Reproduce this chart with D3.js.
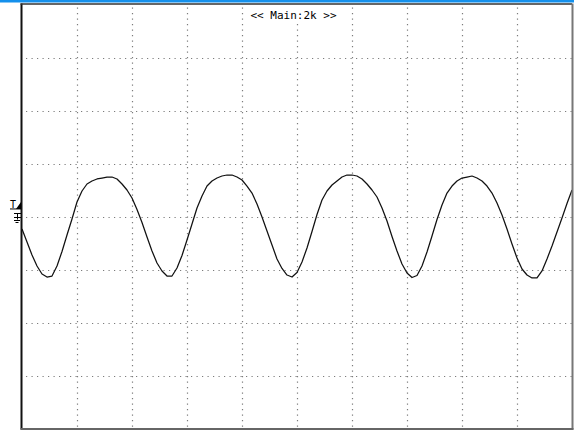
<!DOCTYPE html>
<html>
<head>
<meta charset="utf-8">
<script src="https://cdn.jsdelivr.net/npm/d3@7"></script>
<style>
  html, body { margin: 0; padding: 0; background: #fff; }
  svg { display: block; }
</style>
</head>
<body>
<svg id="scope" width="574" height="430"></svg>
<script>
// Screen: 10 horizontal x 8 vertical divisions
const timeDivs = d3.range(0, 11);
const voltDivs = d3.range(-4, 5);
const samplesPerDiv = 11;
const headerLabel = "<< Main:2k >>";
const triggerLevel = 0.18;   // div
const groundLevel = 0;       // div

// Captured trace, volts in divisions, one value per sample
const trace = [
  -0.236,-0.481,-0.726,-0.934,-1.085,-1.142,-1.123,-0.934,-0.660,-0.349,
  -0.047, 0.274, 0.481, 0.613, 0.670, 0.708, 0.726, 0.745, 0.745, 0.708,
   0.613, 0.500, 0.349, 0.132,-0.113,-0.387,-0.651,-0.877,-1.028,-1.123,
  -1.123,-0.972,-0.736,-0.443,-0.142, 0.160, 0.387, 0.575, 0.670, 0.726,
   0.764, 0.783, 0.783, 0.745, 0.689, 0.575, 0.443, 0.236,-0.009,-0.274,
  -0.538,-0.802,-0.981,-1.104,-1.142,-1.057,-0.858,-0.594,-0.283, 0.038,
   0.311, 0.481, 0.594, 0.670, 0.745, 0.783, 0.783, 0.764, 0.708, 0.613,
   0.500, 0.368, 0.160,-0.085,-0.377,-0.651,-0.896,-1.066,-1.151,-1.113,
  -0.934,-0.670,-0.368,-0.057, 0.217, 0.443, 0.575, 0.670, 0.726, 0.745,
   0.764, 0.726, 0.670, 0.575, 0.443, 0.255, 0.028,-0.236,-0.519,-0.783,
  -0.991,-1.104,-1.160,-1.160,-1.028,-0.802,-0.557,-0.292,-0.028, 0.245,
   0.500
];

const svg = d3.select("#scope");
const W = 574, H = 430;
const plot = { left: 22, right: 572, top: 4.5, bottom: 428.5 };

const x = d3.scaleLinear().domain([0, 10]).range([plot.left, plot.right]);
const y = d3.scaleLinear().domain([-4, 4]).range([plot.bottom, plot.top]);

// Title strip
svg.append("rect").attr("x", 0).attr("y", 0).attr("width", W).attr("height", 2.5)
  .attr("fill", "#1490ec");

// Dotted graticule
const grid = svg.append("g").attr("stroke", "#7c7c7c").attr("stroke-width", 1.2)
  .attr("stroke-dasharray", "1.2,4.3");
grid.selectAll("line.v").data(timeDivs.slice(1, -1)).join("line")
  .attr("class", "v")
  .attr("x1", d => Math.round(x(d)) + 0.5).attr("x2", d => Math.round(x(d)) + 0.5)
  .attr("y1", plot.top + 3).attr("y2", plot.bottom);
grid.selectAll("line.h").data(voltDivs.slice(1, -1)).join("line")
  .attr("class", "h")
  .attr("y1", d => Math.round(y(d)) + 0.5).attr("y2", d => Math.round(y(d)) + 0.5)
  .attr("x1", plot.left + 4).attr("x2", plot.right);

// Header label on a white patch
const header = svg.append("g");
const hx = x(5) - 3.5;
header.append("rect").attr("x", hx - 46).attr("y", plot.top + 1)
  .attr("width", 92).attr("height", 15).attr("fill", "#fff");
header.append("text").attr("x", hx).attr("y", 18.5)
  .attr("text-anchor", "middle")
  .attr("font-family", "'DejaVu Sans Mono', monospace")
  .attr("font-size", 11).attr("fill", "#000")
  .text(headerLabel);

// Waveform
const line = d3.line()
  .x((d, i) => x(i / samplesPerDiv))
  .y(d => y(d))
  .curve(d3.curveLinear);
svg.append("path").datum(trace)
  .attr("d", line)
  .attr("fill", "none").attr("stroke", "#111").attr("stroke-width", 1.25)
  .attr("stroke-linejoin", "round");

// Frame (inset bevel)
svg.append("line").attr("x1", plot.left - 0.5).attr("x2", plot.left - 0.5)
  .attr("y1", plot.top - 1).attr("y2", plot.bottom + 1)
  .attr("stroke", "#111").attr("stroke-width", 2);
svg.append("line").attr("x1", plot.left - 1.5).attr("x2", plot.right)
  .attr("y1", plot.top - 0.5).attr("y2", plot.top - 0.5)
  .attr("stroke", "#333").attr("stroke-width", 1.5);
svg.append("line").attr("x1", plot.right + 0.5).attr("x2", plot.right + 0.5)
  .attr("y1", plot.top - 1).attr("y2", plot.bottom + 1)
  .attr("stroke", "#777").attr("stroke-width", 2);
svg.append("line").attr("x1", plot.left - 1.5).attr("x2", plot.right + 1.5)
  .attr("y1", plot.bottom + 0.5).attr("y2", plot.bottom + 0.5)
  .attr("stroke", "#666").attr("stroke-width", 2);

// Trigger level marker
const ty = y(triggerLevel);
const trig = svg.append("g");
trig.append("text").attr("x", 10).attr("y", ty + 1.5)
  .attr("font-family", "'DejaVu Sans Mono', monospace")
  .attr("font-size", 10).attr("fill", "#000").text("T");
trig.append("line").attr("x1", 10).attr("x2", plot.left - 1)
  .attr("y1", ty + 2).attr("y2", ty + 2).attr("stroke", "#000").attr("stroke-width", 1);
trig.append("path")
  .attr("d", `M${plot.left - 6},${ty + 2}L${plot.left - 1},${ty - 5}L${plot.left - 1},${ty + 2}Z`)
  .attr("fill", "#000");

// Ground reference marker
const gy = Math.round(y(groundLevel)) - 0.5;
const gnd = svg.append("g").attr("stroke", "#000").attr("stroke-width", 1);
gnd.append("line").attr("x1", 14).attr("x2", 21).attr("y1", gy - 3).attr("y2", gy - 3);
gnd.append("line").attr("x1", 17.5).attr("x2", 17.5).attr("y1", gy - 3).attr("y2", gy + 3);
gnd.append("line").attr("x1", 14).attr("x2", 21).attr("y1", gy + 1).attr("y2", gy + 1);
gnd.append("line").attr("x1", 14).attr("x2", 20).attr("y1", gy + 4).attr("y2", gy + 4);
gnd.append("line").attr("x1", 15.5).attr("x2", 18.5).attr("y1", gy + 6).attr("y2", gy + 6);
</script>
</body>
</html>
